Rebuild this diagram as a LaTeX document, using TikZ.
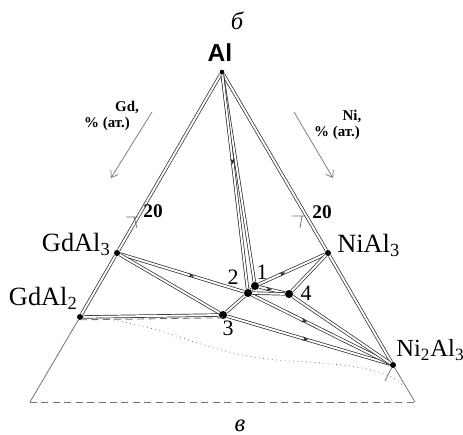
\documentclass[tikz,border=0pt]{standalone}
\usepackage{fontspec}
\setmainfont{Liberation Serif}
\newfontfamily\alfont{Liberation Sans}
\usetikzlibrary{arrows.meta,decorations.markings}
\definecolor{PdInk}{RGB}{40,40,40}
\definecolor{PdGray}{RGB}{115,115,115}
\tikzset{
  pd/tie/.style={draw=PdInk, line width=0.4pt, double=white, double distance=1.1pt},
  pd/side/.style={draw=PdGray, line width=0.45pt},
  pd/base/.style={draw=PdGray, line width=0.5pt, dash pattern=on 4pt off 2.5pt},
  pd/liquidus/.style={draw=PdGray, line width=0.45pt, dotted},
  pd/phase/.style={circle, fill=black, inner sep=0pt, minimum size=3.4pt},
  pd/point/.style={circle, fill=black, inner sep=0pt, minimum size=4.6pt},
  pd/compound/.style={font=\fontsize{15}{17}\selectfont, inner sep=0pt},
  pd/num/.style={font=\fontsize{12.5}{14}\selectfont, inner sep=0pt},
  pd/axis/.style={font=\fontsize{8.5}{10}\selectfont\bfseries, inner sep=0pt},
  pd/letter/.style={font=\fontsize{14}{16}\selectfont\itshape, inner sep=0pt},
  pd/arrow/.style={-{Straight Barb[length=3.5pt,width=5pt]}, draw=PdGray, line width=0.4pt},
  pd/flow/.style={postaction={decorate}, decoration={markings,
    mark=at position #1 with {\arrow{Stealth[length=3.5pt,width=2.4pt]}}}}
}

\begin{document}
\begin{tikzpicture}[x=0.02cm,y=-0.02cm]
  \useasboundingbox (0,0) rectangle (463,435);
  \coordinate (bl) at (30,402);
  \coordinate (br) at (415,402);
  \node[pd/phase, minimum size=2.6pt] (al) at (222,72) {};
  \node[pd/phase] (gdal3) at (117,253) {};
  \node[pd/phase] (gdal2) at (80,317) {};
  \node[pd/phase] (nial3) at (328,253) {};
  \node[pd/phase] (ni2al3) at (393,365) {};
  \node[pd/point] (p1) at (255,286) {};
  \node[pd/point] (p2) at (248,293) {};
  \node[pd/point] (p3) at (223,315) {};
  \node[pd/point] (p4) at (289,294) {};

  \draw[pd/side] (gdal2) -- (bl);
  \draw[pd/base] (bl) -- (br);
  \draw[pd/side] (br) -- (ni2al3);
  \draw[pd/tie] (al) -- (gdal3) -- (gdal2);
  \draw[pd/tie] (al) -- (nial3) -- (ni2al3);

  \draw[pd/tie] (al) -- (p1);
  \draw[pd/tie, pd/flow=0.42] (al) -- (p2);
  \draw[pd/tie, pd/flow=0.6] (gdal3) -- (p2);
  \draw[pd/tie] (gdal3) -- (p3);
  \draw[pd/tie] (gdal2) -- (p3);
  \draw[pd/base] ([yshift=-1.6pt]gdal2.center) -- ([yshift=-1.6pt]p3.center);
  \draw[pd/tie] (p3) -- (p2);
  \draw[pd/tie] (p1) -- (p2);
  \draw[pd/tie, pd/flow=0.5] (p3) -- (ni2al3);
  \draw[pd/tie, pd/flow=0.4] (p2) -- (ni2al3);
  \draw[pd/tie] (p4) -- (ni2al3);
  \draw[pd/tie, pd/flow=0.4] (p1) -- (nial3);
  \draw[pd/tie] (nial3) -- (p4);
  \draw[pd/tie, pd/flow=0.5] (p1) -- (p4);
  \draw[pd/tie] (p2) -- (p4);

  \draw[pd/liquidus] (gdal2) .. controls (170,322) and (200,356) .. (290,361)
    .. controls (350,364) and (392,370) .. (403,386);
  \coordinate (nitick) at (385,381);
  \draw[pd/side] (ni2al3) -- (nitick);

  \coordinate (gdtick) at (138,217);
  \coordinate (nitick20) at (306,216);
  \draw[pd/side] (gdtick) -- ++(-12,0) (gdtick) ++(-4,0) -- ++(3,11);
  \draw[pd/side] (nitick20) -- ++(-14,0) (nitick20) ++(-4,0) -- ++(-2,12);

  \coordinate (gdtail) at (152,112);
  \coordinate (gdhead) at (111,178);
  \coordinate (nitail) at (294,112);
  \coordinate (nihead) at (333,178);
  \draw[pd/arrow] (gdtail) -- (gdhead);
  \draw[pd/arrow] (nitail) -- (nihead);

  \node[pd/letter] (top) at (237,21) {б};
  \node[pd/letter] (bottom) at (240,426) {в};
  \node[font=\alfont\fontsize{14}{16}\selectfont\bfseries, inner sep=0pt] (allab) at (220,53) {Al};
  \node[pd/axis] (gdlab) at (127,107) {Gd,};
  \node[pd/axis] (gdunit) at (107,124) {\% (ат.)};
  \node[pd/axis] (nilab) at (352,116) {Ni,};
  \node[pd/axis] (niunit) at (337,133) {\% (ат.)};
  \node[pd/num, font=\fontsize{11}{13}\selectfont\bfseries] (gd20) at (153,211) {20};
  \node[pd/num, font=\fontsize{11}{13}\selectfont\bfseries] (ni20) at (322,212) {20};

  \node[pd/compound, anchor=base east] (gdal3lab) at (111,252) {GdAl\textsubscript{3}};
  \node[pd/compound, anchor=base east] (gdal2lab) at (78,306) {GdAl\textsubscript{2}};
  \node[pd/compound, anchor=base west] (nial3lab) at (337,253) {NiAl\textsubscript{3}};
  \node[pd/compound, font=\fontsize{14}{16}\selectfont, anchor=base west] (ni2al3lab) at (396,357) {Ni\textsubscript{2}Al\textsubscript{3}};
  \node[pd/num] (n1) at (262,272) {1};
  \node[pd/num] (n2) at (233,277) {2};
  \node[pd/num] (n3) at (228,328) {3};
  \node[pd/num] (n4) at (306,293) {4};
\end{tikzpicture}
\end{document}
